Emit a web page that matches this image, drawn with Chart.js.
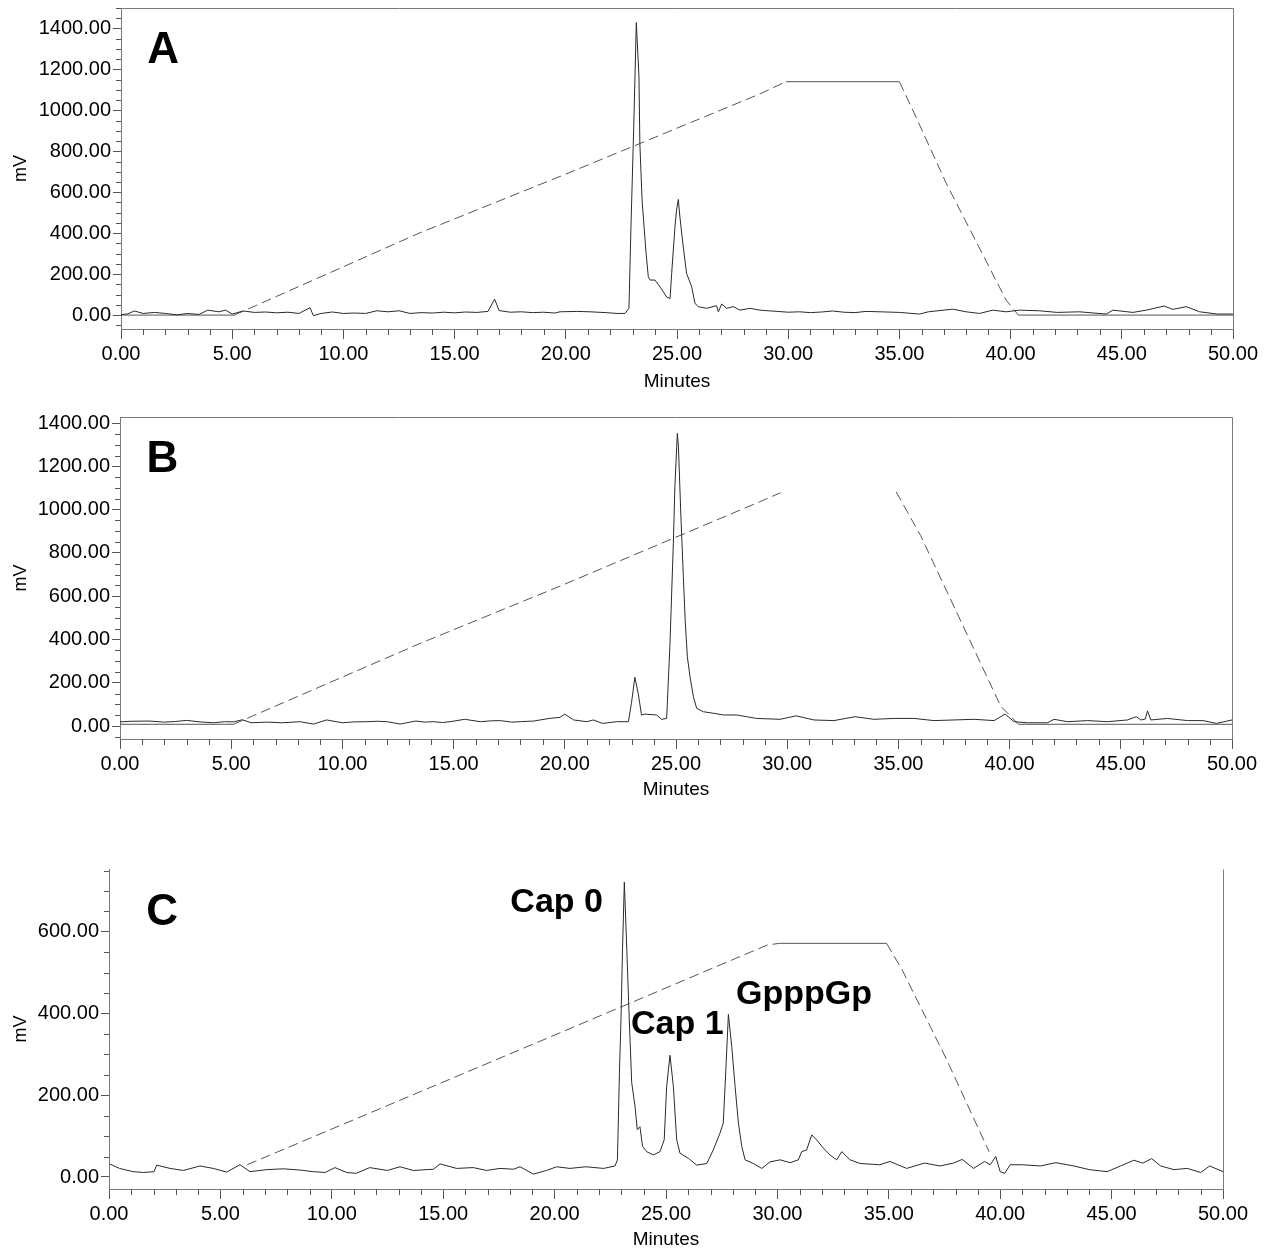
<!DOCTYPE html>
<html>
<head>
<meta charset="utf-8">
<title>HPLC traces</title>
<script src="https://cdn.jsdelivr.net/npm/chart.js@4.4.1/dist/chart.umd.min.js"></script>
<style>
  html, body { margin: 0; padding: 0; background: #fff; }
  #wrap { position: relative; width: 1269px; height: 1252px; overflow: hidden; }
  canvas { position: absolute; left: 0; }
</style>
</head>
<body>
<div id="wrap">
  <canvas id="chartA" width="1269" height="400" style="top:0px"></canvas>
  <canvas id="chartB" width="1269" height="420" style="top:400px"></canvas>
  <canvas id="chartC" width="1269" height="432" style="top:820px"></canvas>
</div>
<script>
// x axis (minutes)
const xTicks = [0, 5, 10, 15, 20, 25, 30, 35, 40, 45, 50];
const xTickLabels = ['0.00', '5.00', '10.00', '15.00', '20.00', '25.00', '30.00', '35.00', '40.00', '45.00', '50.00'];

// y axis (mV)
const yTicksAB = [0, 200, 400, 600, 800, 1000, 1200, 1400];
const yTickLabelsAB = ['0.00', '200.00', '400.00', '600.00', '800.00', '1000.00', '1200.00', '1400.00'];
const yTicksC = [0, 200, 400, 600];
const yTickLabelsC = ['0.00', '200.00', '400.00', '600.00'];

// panel A - trace
const timeA = [0, 0.3, 0.6, 1.0, 1.5, 2.0, 2.5, 3.0, 3.5, 3.9, 4.4, 4.7, 5.0, 5.5, 6.0, 6.5, 7.0, 7.5, 8.0, 8.5,
  8.65, 9.0, 9.5, 10.0, 10.5, 11.0, 11.5, 12.0, 12.5, 13.0, 13.5, 14.0, 14.5, 15.0, 15.5, 16.0, 16.5, 16.8, 17.0, 17.5,
  18.0, 18.5, 19.0, 19.5, 19.74, 20.5, 21.09, 21.8, 22.3, 22.66, 22.84, 22.93, 23.05, 23.17, 23.29, 23.33, 23.43, 23.52, 23.61, 23.71,
  23.79, 24.01, 24.24, 24.54, 24.69, 24.76, 24.91, 24.98, 25.06, 25.13, 25.28, 25.43, 25.66, 25.81, 25.96, 26.33, 26.78, 26.86, 27.01, 27.23,
  27.53, 27.83, 28.28, 28.73, 29.5, 30.0, 30.5, 31.0, 31.5, 32.0, 32.5, 33.0, 33.5, 34.13, 35.0, 35.9, 36.3, 37.4, 38.0, 38.6,
  39.2, 39.8, 40.4, 41.3, 42.1, 43.1, 44.3, 44.6, 45.5, 46.1, 46.9, 47.3, 47.9, 48.5, 49.3, 50.0];
const mvA = [2, 6, 20, 8, 13, 8, 1, 8, 3, 24, 16, 24, 5, 20, 13, 15, 11, 14, 8, 36,
  -3, 8, 15, 8, 10, 8, 21, 16, 21, 8, 12, 10, 14, 11, 15, 13, 18, 78, 22, 14,
  16, 12, 14, 10, 16, 18, 16, 12, 8, 8, 33, 432, 900, 1429, 1165, 839, 562, 430, 302, 187,
  171, 171, 137, 88, 81, 204, 432, 513, 565, 480, 334, 204, 138, 57, 41, 33, 46, 16, 54, 33,
  41, 24, 33, 24, 18, 14, 16, 12, 15, 20, 14, 12, 18, 16, 13, 5, 16, 29, 16, 8,
  24, 16, 24, 21, 13, 16, 5, 24, 13, 24, 44, 28, 41, 16, 5, 5];
// panel A - gradient
const gradTimeA = [0, 5.1, 13.4, 20.1, 28.7, 29.9, 35.0, 35.6, 37.1, 39.8, 40.35, 50];
const gradA = [0, 0, 400, 693, 1079, 1140, 1140, 1002, 645, 73, 0, 0];

// panel B - trace
const timeB = [0, 0.5, 1.3, 2.0, 2.5, 3.0, 3.6, 4.2, 4.7, 5.1, 5.5, 5.9, 6.6, 7.3, 8.09, 8.7, 9.29, 10.0, 10.5, 11.1,
  11.6, 12.0, 12.6, 13.3, 13.7, 14.09, 14.5, 14.84, 15.5, 16.2, 16.7, 17.1, 17.6, 18.0, 18.6, 19.3, 19.78, 20.0, 20.4, 20.99,
  21.28, 21.7, 22.33, 22.86, 23.0, 23.15, 23.3, 23.45, 23.6, 24.13, 24.35, 24.58, 24.73, 24.88, 24.95, 25.06, 25.11, 25.21, 25.33, 25.42,
  25.51, 25.63, 25.78, 25.93, 26.23, 26.68, 27.13, 27.73, 28.18, 28.63, 29.68, 30.4, 31.2, 32.1, 33.05, 33.9, 34.8, 35.7, 36.6, 37.5,
  38.4, 39.3, 39.8, 40.2, 40.8, 41.7, 42.0, 42.6, 43.5, 44.4, 45.3, 45.7, 45.9, 46.1, 46.2, 46.35, 47.1, 48.0, 48.7, 49.3, 50.0];
const mvB = [19, 22, 23, 18, 21, 26, 19, 15, 20, 19, 29, 15, 18, 15, 20, 9, 28, 15, 19, 20,
  22, 20, 9, 23, 18, 20, 16, 20, 31, 20, 24, 25, 18, 20, 23, 35, 40, 55, 28, 20,
  28, 12, 20, 20, 108, 225, 151, 51, 55, 51, 31, 35, 382, 844, 1106, 1352, 1291, 998, 690, 475,
  321, 228, 136, 82, 66, 59, 51, 51, 43, 35, 31, 47, 28, 25, 43, 31, 35, 35, 25, 28,
  31, 25, 55, 20, 15, 15, 31, 20, 25, 20, 28, 43, 28, 32, 70, 28, 35, 25, 25, 12, 28];
// panel B - gradient (plateau not recorded)
const gradTimeB = [0, 5.1, 13.5, 19.8, 28.6, 29.7, 32.3, 34.9, 36.0, 39.6, 40.4, 50];
const gradB = [8, 8, 382, 647, 1029, 1078, null, 1082, 880, 92, 8, 8];

// panel C - trace
const timeC = [0.03, 0.47, 1.09, 1.54, 2.02, 2.14, 2.74, 3.34, 4.08, 4.68, 5.28, 5.88, 6.33, 7.08, 7.83, 8.57, 9.17, 9.7, 10.14, 10.67,
  11.1, 11.7, 12.5, 13.06, 13.66, 14.56, 14.86, 15.6, 16.35, 16.95, 17.55, 18.15, 18.45, 19.05, 19.64, 20.09, 20.69, 21.4, 22.2, 22.71,
  22.82, 22.91, 22.98, 23.05, 23.13, 23.24, 23.34, 23.46, 23.61, 23.71, 23.83, 23.95, 24.13, 24.43, 24.73, 24.92, 25.03, 25.18, 25.33, 25.48,
  25.63, 26.0, 26.38, 26.83, 27.12, 27.42, 27.57, 27.68, 27.8, 27.95, 28.1, 28.25, 28.4, 28.55, 28.92, 29.3, 29.67, 30.12, 30.57, 30.94,
  31.09, 31.31, 31.54, 31.76, 32.06, 32.36, 32.66, 32.89, 33.26, 33.71, 34.6, 35.05, 35.8, 36.6, 37.3, 37.9, 38.3, 38.8, 39.3, 39.55,
  39.8, 40.0, 40.2, 40.45, 41.0, 41.8, 42.5, 43.3, 44.0, 44.8, 45.4, 46.0, 46.4, 46.8, 47.2, 47.8, 48.4, 49.0, 49.4, 50.0];
const mvC = [32, 21, 13, 11, 13, 29, 21, 16, 27, 21, 12, 30, 13, 18, 20, 17, 13, 11, 23, 11,
  9, 23, 16, 25, 16, 19, 32, 21, 23, 16, 21, 19, 25, 7, 16, 25, 21, 25, 21, 27,
  42, 255, 386, 560, 722, 558, 403, 231, 173, 116, 123, 75, 62, 54, 62, 91, 222, 298, 222, 91,
  58, 46, 29, 33, 66, 107, 132, 255, 398, 320, 222, 132, 75, 42, 33, 21, 37, 42, 35, 42,
  62, 66, 103, 91, 71, 54, 42, 62, 42, 33, 30, 38, 21, 34, 27, 34, 43, 21, 38, 30,
  50, 13, 9, 30, 30, 27, 35, 27, 18, 13, 27, 41, 34, 45, 27, 18, 21, 11, 27, 13];
// panel C - gradient
const gradTimeC = [6.2, 20.24, 29.55, 30.1, 34.9, 35.6, 37.6, 39.5];
const gradC = [30, 353, 568, 572, 572, 507, 287, 62];

const FONT = '"Liberation Sans", Arial, Helvetica, sans-serif';
Chart.defaults.font.family = FONT;

function toPoints(xs, ys) {
  return xs.map(function (x, i) { return { x: x, y: ys[i] }; });
}

// frame, minor ticks and panel text
const decorPlugin = {
  id: 'decor',
  afterDraw: function (chart, args, opts) {
    const ctx = chart.ctx;
    const area = chart.chartArea;
    const xs = chart.scales.x;
    const ys = chart.scales.y;
    ctx.save();
    ctx.strokeStyle = '#7a7a7a';
    ctx.lineWidth = 1;
    ctx.beginPath();
    if (opts.frame === 'box') {
      ctx.moveTo(Math.round(area.left) + 0.5, Math.round(area.top) + 0.5);
      ctx.lineTo(Math.round(area.right) + 0.5, Math.round(area.top) + 0.5);
    }
    ctx.moveTo(Math.round(area.right) + 0.5, Math.round(area.top) + 0.5);
    ctx.lineTo(Math.round(area.right) + 0.5, Math.round(area.bottom) + 0.5);
    ctx.stroke();

    ctx.strokeStyle = '#555';
    ctx.beginPath();
    for (let m = xs.min; m <= xs.max; m += 1) {
      if (m % 5 === 0) continue;
      const px = Math.round(xs.getPixelForValue(m)) + 0.5;
      ctx.moveTo(px, area.bottom);
      ctx.lineTo(px, area.bottom + 6);
    }
    for (let v = Math.ceil(ys.min / 50) * 50; v <= ys.max; v += 50) {
      if (v % 200 === 0 && v >= 0 && v <= opts.yMajorMax) continue;
      const py = Math.round(ys.getPixelForValue(v)) + 0.5;
      ctx.moveTo(area.left - 5, py);
      ctx.lineTo(area.left, py);
    }
    ctx.stroke();

    ctx.fillStyle = '#000';
    ctx.textBaseline = 'alphabetic';
    opts.labels.forEach(function (lb) {
      ctx.font = 'bold ' + lb.size + 'px ' + FONT;
      ctx.textAlign = lb.align;
      ctx.fillText(lb.text, xs.getPixelForValue(lb.x), ys.getPixelForValue(lb.y));
    });
    ctx.restore();
  }
};

function makeChart(id, p) {
  return new Chart(document.getElementById(id), {
    type: 'line',
    data: {
      datasets: [{
        data: toPoints(p.time, p.mv),
        borderColor: '#2a2a2a',
        borderWidth: 1,
        pointRadius: 0,
        tension: 0
      }, {
        data: toPoints(p.gradTime, p.grad),
        borderColor: '#555',
        borderWidth: 1,
        pointRadius: 0,
        tension: 0,
        spanGaps: false,
        segment: {
          borderDash: function (c) { return c.p0.parsed.y === c.p1.parsed.y ? [] : [10, 5]; }
        }
      }]
    },
    options: {
      responsive: false,
      devicePixelRatio: 1,
      animation: false,
      events: [],
      layout: { padding: { left: 0, right: p.padRight, top: p.padTop, bottom: 0 } },
      plugins: {
        legend: { display: false },
        tooltip: { enabled: false },
        decor: { frame: p.frame, yMajorMax: p.yTicks[p.yTicks.length - 1], labels: p.labels }
      },
      scales: {
        x: {
          type: 'linear',
          min: 0,
          max: 50,
          afterBuildTicks: function (s) { s.ticks = xTicks.map(function (v) { return { value: v }; }); },
          afterFit: function (s) { s.height = p.xHeight; s.paddingLeft = 0; s.paddingRight = 0; },
          ticks: {
            autoSkip: false,
            maxRotation: 0,
            padding: 3,
            color: '#000',
            font: { size: 20 },
            callback: function (v, i) { return xTickLabels[i]; }
          },
          grid: { drawOnChartArea: false, drawTicks: true, tickLength: 10, tickColor: '#555' },
          border: { display: true, color: '#7a7a7a', width: 1 },
          title: { display: true, text: 'Minutes', color: '#000', font: { size: 19 }, padding: { top: 0, bottom: p.titlePad } }
        },
        y: {
          type: 'linear',
          min: p.yMin,
          max: p.yMax,
          afterBuildTicks: function (s) { s.ticks = p.yTicks.map(function (v) { return { value: v }; }); },
          afterFit: function (s) { s.width = p.yWidth; s.paddingTop = 0; s.paddingBottom = 0; },
          ticks: {
            autoSkip: false,
            padding: 2,
            color: '#000',
            font: { size: 20 },
            callback: function (v, i) { return p.yTickLabels[i]; }
          },
          grid: { drawOnChartArea: false, drawTicks: true, tickLength: 8, tickColor: '#555' },
          border: { display: true, color: '#7a7a7a', width: 1 },
          title: { display: true, text: 'mV', color: '#000', font: { size: 18 }, padding: { top: 10, bottom: 0 } }
        }
      }
    },
    plugins: [decorPlugin]
  });
}

makeChart('chartA', {
  time: timeA, mv: mvA, gradTime: gradTimeA, grad: gradA,
  yTicks: yTicksAB, yTickLabels: yTickLabelsAB, yMin: -68, yMax: 1500,
  yWidth: 121, padRight: 36, padTop: 8, xHeight: 71, titlePad: 6.6, frame: 'box',
  labels: [{ text: 'A', x: 1.9, y: 1232, size: 44, align: 'center' }]
});

makeChart('chartB', {
  time: timeB, mv: mvB, gradTime: gradTimeB, grad: gradB,
  yTicks: yTicksAB, yTickLabels: yTickLabelsAB, yMin: -60, yMax: 1428,
  yWidth: 120, padRight: 37, padTop: 17, xHeight: 81, titlePad: 18.6, frame: 'box',
  labels: [{ text: 'B', x: 1.91, y: 1174, size: 44, align: 'center' }]
});

makeChart('chartC', {
  time: timeC, mv: mvC, gradTime: gradTimeC, grad: gradC,
  yTicks: yTicksC, yTickLabels: yTickLabelsC, yMin: -29.4, yMax: 754,
  yWidth: 109, padRight: 46, padTop: 49, xHeight: 63, titlePad: 0.6, frame: 'right',
  labels: [
    { text: 'C', x: 2.38, y: 617, size: 44, align: 'center' },
    { text: 'Cap 0', x: 22.17, y: 649, size: 34, align: 'right' },
    { text: 'Cap 1', x: 23.43, y: 349, size: 34, align: 'left' },
    { text: 'GpppGp', x: 28.14, y: 423, size: 34, align: 'left' }
  ]
});
</script>
</body>
</html>
